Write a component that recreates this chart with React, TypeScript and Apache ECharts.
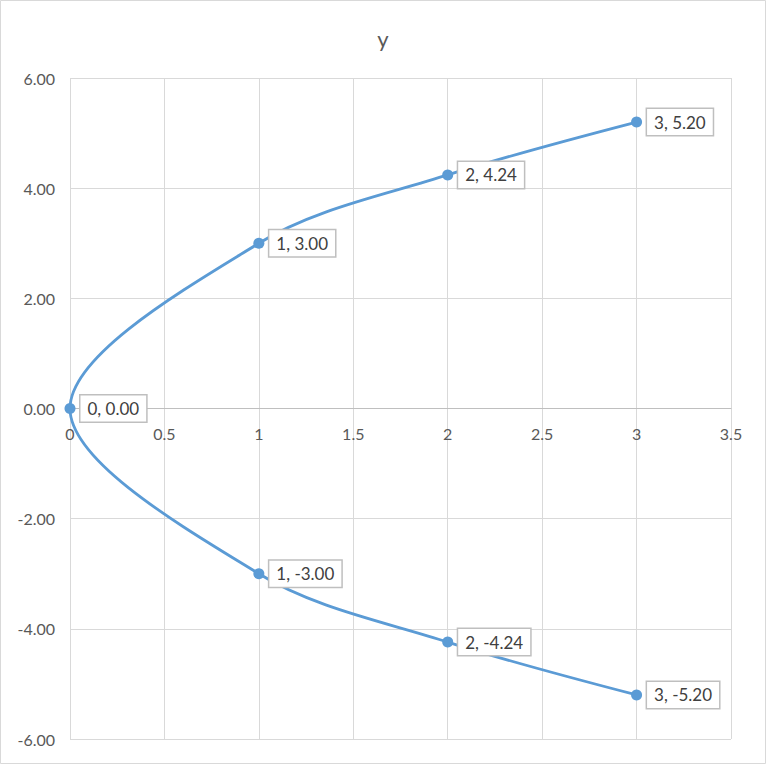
import React, { useEffect, useRef } from "react";
import * as echarts from "echarts";

const xValues = [3, 2, 1, 0, 1, 2, 3];
const yValues = [-5.2, -4.24, -3.0, 0.0, 3.0, 4.24, 5.2];
const titleText = "y";

export default function App() {
  const ref = useRef<HTMLDivElement>(null);
  useEffect(() => {
    document.body.style.margin = "0";
    const chart = echarts.init(ref.current!, null, { renderer: "svg" });
    const font = "Lato, 'Noto Sans', sans-serif";
    const top = 78;
    const bottom = 25;
    const plotH = 764 - top - bottom;
    const zeroOffset = -(plotH / 2);
    chart.setOption({
      animation: false,
      backgroundColor: "#ffffff",
      title: {
        text: titleText,
        left: "center",
        top: 22,
        textStyle: { fontFamily: font, fontSize: 22, fontWeight: "normal", color: "#595959" },
      },
      graphic: [
        {
          type: "rect",
          shape: { x: 0.5, y: 0.5, width: 765, height: 763 },
          style: { fill: "none", stroke: "#d9d9d9", lineWidth: 1 },
          silent: true,
        },
      ],
      grid: { left: 70, right: 35, top, bottom, containLabel: false, outerBoundsMode: "none" },
      xAxis: {
        type: "value",
        min: 0,
        max: 3.5,
        interval: 0.5,
        position: "bottom",
        offset: zeroOffset,
        axisLine: { onZero: false, lineStyle: { color: "#bfbfbf", width: 1 } },
        axisTick: { show: false },
        axisLabel: { fontFamily: font, fontSize: 16, color: "#595959", margin: 17 },
        splitLine: { show: true, lineStyle: { color: "#d9d9d9", width: 1 } },
      },
      yAxis: {
        type: "value",
        min: -6,
        max: 6,
        interval: 2,
        axisLine: { show: false, onZero: false },
        axisTick: { show: false },
        axisLabel: {
          fontFamily: font,
          fontSize: 16,
          color: "#595959",
          margin: 15,
          formatter: (v: number) => v.toFixed(2),
        },
        splitLine: { show: true, lineStyle: { color: "#d9d9d9", width: 1 } },
      },
      series: [
        {
          type: "line",
          data: xValues.map((x, i) => [x, yValues[i]]),
          smooth: 0.33,
          symbol: "circle",
          symbolSize: 11,
          lineStyle: { color: "#5B9BD5", width: 2.8 },
          itemStyle: { color: "#5B9BD5" },
          z: 5,
          label: {
            show: true,
            position: "right",
            distance: 5,
            formatter: (p: any) => `${p.value[0]}, ${p.value[1].toFixed(2)}`,
            fontFamily: font,
            fontSize: 17,
            color: "#404040",
            backgroundColor: "#ffffff",
            borderColor: "#bfbfbf",
            borderWidth: 1.5,
            padding: [5, 7, 4, 7],
          },
        },
      ],
    });
    return () => chart.dispose();
  }, []);
  return <div ref={ref} style={{ width: 766, height: 764 }} />;
}
